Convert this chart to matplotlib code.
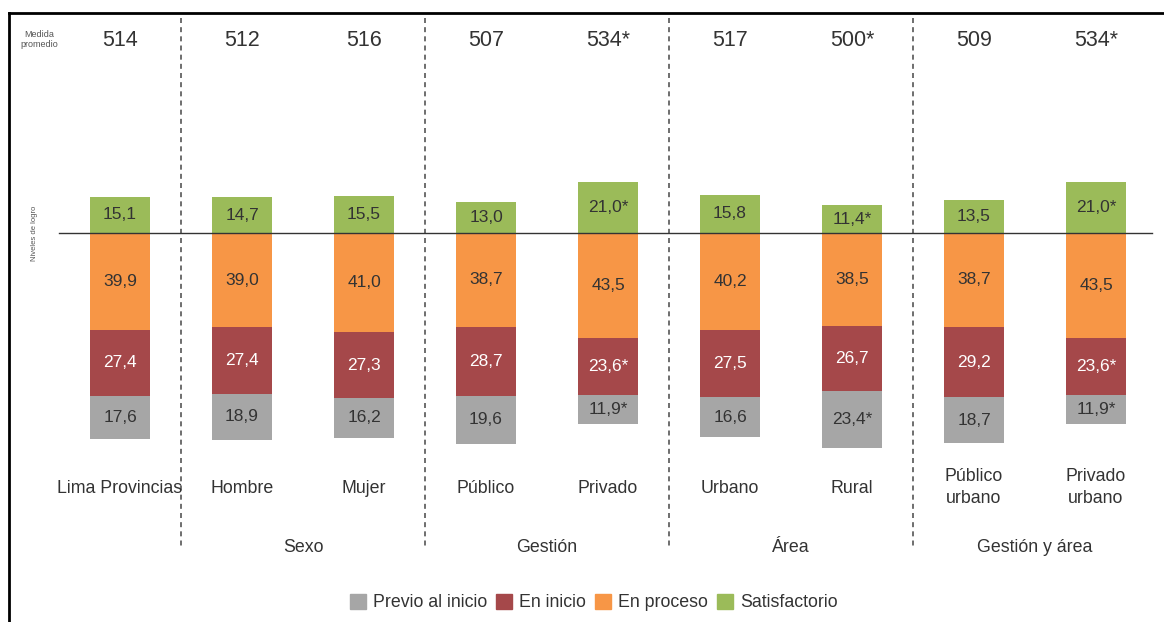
import matplotlib.pyplot as plt
from matplotlib.patches import Patch
from matplotlib.lines import Line2D

categorias = ['Lima Provincias', 'Hombre', 'Mujer', 'Público', 'Privado',
              'Urbano', 'Rural', 'Público\nurbano', 'Privado\nurbano']
medias = ['514', '512', '516', '507', '534*', '517', '500*', '509', '534*']
satisfactorio = [15.1, 14.7, 15.5, 13.0, 21.0, 15.8, 11.4, 13.5, 21.0]
sat_sig = [0, 0, 0, 0, 1, 0, 1, 0, 1]
en_proceso = [39.9, 39.0, 41.0, 38.7, 43.5, 40.2, 38.5, 38.7, 43.5]
proc_sig = [0, 0, 0, 0, 0, 0, 0, 0, 0]
en_inicio = [27.4, 27.4, 27.3, 28.7, 23.6, 27.5, 26.7, 29.2, 23.6]
ini_sig = [0, 0, 0, 0, 1, 0, 0, 0, 1]
previo = [17.6, 18.9, 16.2, 19.6, 11.9, 16.6, 23.4, 18.7, 11.9]
prev_sig = [0, 0, 0, 0, 1, 0, 1, 0, 1]
grupos = ['Sexo', 'Gestión', 'Área', 'Gestión y área']
grupo_pos = [1.5, 3.5, 5.5, 7.5]
separadores = [0.5, 2.5, 4.5, 6.5]

c_prev = '#A6A6A6'
c_ini = '#A5484A'
c_proc = '#F79646'
c_sat = '#9BBB59'
txt = '#333333'

plt.rcParams['font.family'] = ['Liberation Sans', 'DejaVu Sans']

fig = plt.figure(figsize=(11.64, 6.22), dpi=100)
ax = fig.add_axes([0, 0, 1, 1])
ax.set_xlim(-0.984, 8.557)
ax.set_ylim(-160.7, 96.3)
ax.axis('off')


def etiqueta(v, s):
    t = ('%.1f' % v).replace('.', ',')
    return t + '*' if s else t


x = range(len(categorias))
w = 0.49
for i in x:
    # arriba de la linea: satisfactorio
    ax.bar(i, satisfactorio[i], w, bottom=0, color=c_sat)
    ax.text(i, satisfactorio[i] / 2, etiqueta(satisfactorio[i], sat_sig[i]),
            ha='center', va='center', fontsize=12.5, color=txt)
    # abajo: en proceso, en inicio, previo
    base = 0
    for vals, sig, col, tc in [(en_proceso, proc_sig, c_proc, txt),
                               (en_inicio, ini_sig, c_ini, 'white'),
                               (previo, prev_sig, c_prev, txt)]:
        ax.bar(i, -vals[i], w, bottom=base, color=col)
        ax.text(i, base - vals[i] / 2, etiqueta(vals[i], sig[i]),
                ha='center', va='center', fontsize=12.5, color=tc)
        base -= vals[i]
    ax.text(i, 79.5, medias[i], ha='center', va='center', fontsize=15.5, color=txt)
    if '\n' in categorias[i]:
        ax.text(i, -105, categorias[i], ha='center', va='center', fontsize=12.8,
                color=txt, linespacing=1.4)
    else:
        ax.text(i, -105.5, categorias[i], ha='center', va='center', fontsize=12.8,
                color=txt)

for s in separadores:
    ax.plot([s, s], [89, -130], ls=(0, (3, 2.5)), color='#555555', lw=1.2)

for g, p in zip(grupos, grupo_pos):
    ax.text(p, -130, g, ha='center', va='center', fontsize=12.8, color=txt)

ax.plot([-0.5, 8.46], [0, 0], color='#333333', lw=1)

ax.text(-0.66, 80, 'Medida\npromedio', ha='center', va='center', fontsize=6.5,
        color='#555555', linespacing=1.2)
ax.text(-0.7, 0, 'Niveles de logro', rotation=90, ha='center', va='center',
        fontsize=5.5, color='#555555')

# marco
fig.add_artist(Line2D([0.0075, 0.0075], [0, 0.979], color='black', lw=2))
fig.add_artist(Line2D([0.0075, 1], [0.979, 0.979], color='black', lw=2))

handles = [Patch(color=c_prev, label='Previo al inicio'),
           Patch(color=c_ini, label='En inicio'),
           Patch(color=c_proc, label='En proceso'),
           Patch(color=c_sat, label='Satisfactorio')]
leg = fig.legend(handles=handles, loc='center', bbox_to_anchor=(0.51, 0.031),
                 ncol=4, frameon=False, fontsize=12.8, handlelength=0.9,
                 handleheight=0.9, handletextpad=0.4, columnspacing=0.5)
for t in leg.get_texts():
    t.set_color(txt)

fig.savefig('out.png', dpi=100)
